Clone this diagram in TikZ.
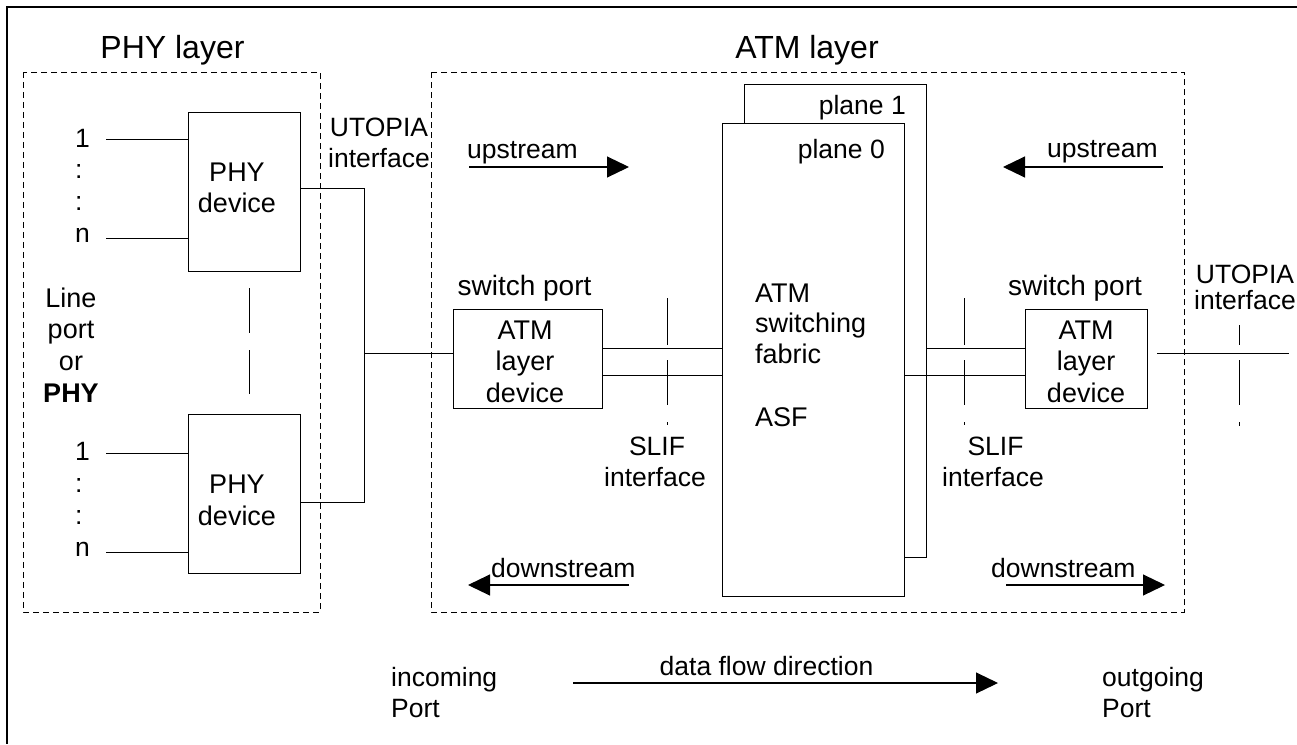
\documentclass[tikz,border=0pt]{standalone}
\usepackage{fontspec}
\setmainfont{Liberation Sans}
\usetikzlibrary{arrows.meta}
\tikzset{
  lbl/.style={inner sep=0pt, anchor=base, font=\fontsize{26.5}{31.5}\selectfont},
  lblw/.style={lbl, anchor=base west},
  lble/.style={lbl, anchor=base east},
  lblb/.style={lbl, font=\fontsize{27}{31.5}\selectfont},
  lbls/.style={lbl, font=\fontsize{28}{31.5}\selectfont},
  ttl/.style={inner sep=0pt, anchor=base, font=\fontsize{32}{38}\selectfont},
  devbox/.style={draw, line width=1pt, fill=white, inner sep=0pt},
  wire/.style={line width=1pt},
  dashbox/.style={line width=0.9pt, dash pattern=on 6pt off 4pt},
  frameline/.style={line width=2.4pt},
  arr/.style={line width=1.1pt, -{Triangle[length=22pt,width=21pt]}}
}
\begin{document}
\begin{tikzpicture}[x=1pt,y=-1pt]
\useasboundingbox (0,0) rectangle (1297,744);
% outer frame (top and left)
\draw[frameline] (6,7) -- (1297,7);
\draw[frameline] (7,6) -- (7,744);
% layer boxes
\draw[dashbox] (23,72) rectangle (320,612);
\draw[dashbox] (431,72) rectangle (1184,612);
\node[ttl] (tphy) at (172.5,58) {PHY layer};
\node[ttl] (tatm) at (807,58) {ATM layer};
% PHY devices
\node[devbox, minimum width=112pt, minimum height=159pt] (phyU) at (244,191.5) {};
\node[devbox, minimum width=112pt, minimum height=159pt] (phyL) at (244,493.5) {};
\node[lblb] (phyUa) at (237,181) {PHY};
\node[lblb] (phyUb) at (237,212) {device};
\node[lblb] (phyLa) at (237,493) {PHY};
\node[lblb] (phyLb) at (237,525) {device};
% port numbers
\node[lblw] (uA) at (75,147) {1};
\node[lblw] (uB) at (75,178.5) {:};
\node[lblw] (uC) at (75,210) {:};
\node[lblw] (uD) at (75,242) {n};
\node[lblw] (lA) at (75,460) {1};
\node[lblw] (lB) at (75,492) {:};
\node[lblw] (lC) at (75,524) {:};
\node[lblw] (lD) at (75,556) {n};
\coordinate (u1) at (106,139);
\coordinate (un) at (106,238);
\coordinate (l1) at (106,453);
\coordinate (ln) at (106,552);
\draw[wire] (u1) -- (u1 -| phyU.west);
\draw[wire] (un) -- (un -| phyU.west);
\draw[wire] (l1) -- (l1 -| phyL.west);
\draw[wire] (ln) -- (ln -| phyL.west);
% Line port or PHY
\node[lblb] (lp1) at (71,307) {Line};
\node[lblb] (lp2) at (71,338.5) {port};
\node[lblb] (lp3) at (71,370) {or};
\node[lblb, font=\fontsize{27}{31.5}\selectfont\bfseries] (lp4) at (71,402) {PHY};
% dash between PHY devices
\coordinate (dv1) at (249,288);
\coordinate (dv2) at (249,333);
\coordinate (dv3) at (249,350);
\coordinate (dv4) at (249,394);
\draw[wire] (dv1) -- (dv2);
\draw[wire] (dv3) -- (dv4);
% UTOPIA left
\node[lbl] (utl1) at (379,136) {UTOPIA};
\node[lbl] (utl2) at (379,167) {interface};
% ATM layer devices
\node[devbox, minimum width=149pt, minimum height=99pt] (ldev) at (527.5,358.5) {};
\node[devbox, minimum width=122pt, minimum height=99pt] (rdev) at (1086,358.5) {};
\node[lblb] (ld1) at (525,339) {ATM};
\node[lblb] (ld2) at (525,370.5) {layer};
\node[lblb] (ld3) at (525,402) {device};
\node[lblb] (rd1) at (1086,339) {ATM};
\node[lblb] (rd2) at (1086,370.5) {layer};
\node[lblb] (rd3) at (1086,402) {device};
\node[lbls] (spl) at (524.5,295) {switch port};
\node[lbls] (spr) at (1075,295) {switch port};
% PHY to ATM device bus
\coordinate (bus) at (364,353);
\draw[wire] (phyU.east |- 0,188) -- (bus |- 0,188) -- (bus |- 0,502) -- (phyL.east |- 0,502);
\draw[wire] (bus) -- (bus -| ldev.west);
% ASF planes
\node[devbox, minimum width=182pt, minimum height=473pt] (pl1) at (835,320.5) {};
\node[devbox, minimum width=182pt, minimum height=473pt] (pl0) at (813,359.5) {};
\node[lble] (pl1t) at (906,114) {plane 1};
\node[lble] (pl0t) at (885,158) {plane 0};
\node[lblw, font=\fontsize{27}{31.5}\selectfont] (asf1) at (755,302) {ATM};
\node[lblw, font=\fontsize{27}{31.5}\selectfont] (asf2) at (755,332.5) {switching};
\node[lblw, font=\fontsize{27}{31.5}\selectfont] (asf3) at (755,363) {fabric};
\node[lblw, font=\fontsize{27}{31.5}\selectfont] (asf4) at (755,426) {ASF};
% SLIF links
\draw[wire] (ldev.east |- 0,348) -- (pl0.west |- 0,348);
\draw[wire] (ldev.east |- 0,375) -- (pl0.west |- 0,375);
\draw[wire] (pl1.east |- 0,348) -- (rdev.west |- 0,348);
\draw[wire] (pl0.east |- 0,375) -- (rdev.west |- 0,375);
% SLIF markers
\foreach \xx in {667, 964}{
  \draw[wire] (\xx,298) -- (\xx,345);
  \draw[wire] (\xx,360) -- (\xx,405);
  \draw[wire] (\xx,422) -- (\xx,425);
}
\node[lbl] (slif1) at (657,455) {SLIF};
\node[lbl] (slif2) at (655,486) {interface};
\node[lbl] (slif3) at (995.5,455) {SLIF};
\node[lbl] (slif4) at (993,486) {interface};
% right UTOPIA
\coordinate (rin) at (1157,353);
\coordinate (rout) at (1289,353);
\draw[wire] (rin) -- (rout);
\draw[wire] (1239,325) -- (1239,345);
\draw[wire] (1239,360) -- (1239,405);
\draw[wire] (1239,422) -- (1239,426);
\node[lbl] (utr1) at (1245,283) {UTOPIA};
\node[lbl] (utr2) at (1245,309) {interface};
% upstream / downstream arrows
\coordinate (upLs) at (469,167);
\coordinate (upLe) at (629,167);
\coordinate (upRs) at (1163,167);
\coordinate (upRe) at (1003,167);
\coordinate (dnLs) at (629,585);
\coordinate (dnLe) at (468,585);
\coordinate (dnRs) at (1006,585);
\coordinate (dnRe) at (1165,585);
\draw[arr] (upLs) -- (upLe);
\draw[arr] (upRs) -- (upRe);
\draw[arr] (dnLs) -- (dnLe);
\draw[arr] (dnRs) -- (dnRe);
\node[lblw] (upLt) at (467,158) {upstream};
\node[lblw] (upRt) at (1047,157) {upstream};
\node[lblw] (dnLt) at (491,577) {downstream};
\node[lblw] (dnRt) at (991,577) {downstream};
% data flow
\coordinate (dfs) at (573,683);
\coordinate (dfe) at (998,683);
\draw[arr] (dfs) -- (dfe);
\node[lbl] (dft) at (766.5,675) {data flow direction};
\node[lblw] (in1) at (391,686) {incoming};
\node[lblw] (in2) at (391,717) {Port};
\node[lblw] (out1) at (1102,686) {outgoing};
\node[lblw] (out2) at (1102,717) {Port};
\end{tikzpicture}
\end{document}
